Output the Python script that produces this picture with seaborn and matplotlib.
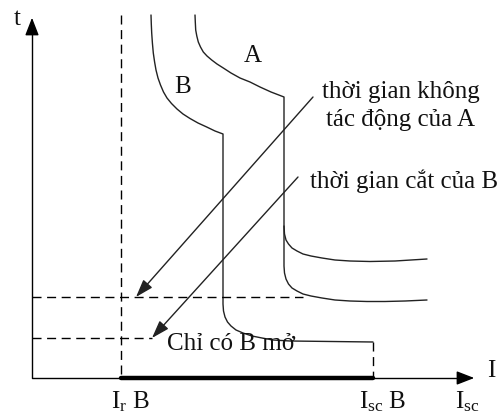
import matplotlib
matplotlib.use("Agg")
import matplotlib.pyplot as plt
import seaborn as sns
import pandas as pd

sns.set_theme(style="white")
plt.rcParams['font.family'] = ['Liberation Serif', 'DejaVu Serif']
plt.rcParams['mathtext.fontset'] = 'custom'
plt.rcParams['mathtext.rm'] = 'Liberation Serif'
plt.rcParams['mathtext.it'] = 'Liberation Serif'

# ---- diagram data (pixel-like canvas units) ----
curve_b_x = [151, 151.3, 151.7, 152.4, 153.3, 154.6, 156, 158, 160.5, 163.5, 167, 171.5, 177, 183, 190, 198, 206.7, 215, 223,
             223, 223.5, 225, 227.5, 231, 236, 243, 252, 262, 273, 290, 373]
curve_b_y = [15, 24, 33, 43, 53, 62, 70, 78, 85, 92, 98, 103.5, 109, 114, 118.5, 123, 127, 131, 134,
             304, 311, 317, 322, 326, 330, 333, 336, 338, 340, 341, 342]

curve_a_x = [195, 195.3, 195.7, 196.8, 198.3, 200.5, 203.3, 207, 211.7, 217, 223.3, 231, 240, 250, 260, 271, 284,
             284, 284.5, 286, 288.5, 292, 297, 303, 311, 322, 335, 350, 367, 385, 405, 427]
curve_a_y = [15, 22, 30, 36, 42, 47, 52, 56, 60, 64, 68, 73, 78, 82, 87, 92, 97,
             266, 273, 279, 284, 288, 291, 294, 296, 298, 300, 301, 301.5, 301.5, 301, 300]

curve_a2_x = [284, 284.5, 286, 288.5, 292, 297, 303, 311, 322, 335, 350, 370, 395, 427]
curve_a2_y = [226, 234, 240, 244, 248, 251, 254, 256, 258, 260, 261, 261.5, 261, 259]

ir_x, isc_x = 121, 373
t_nonop_y, t_cut_y = 297, 338
box_top_y = 342
axis_x0, axis_y0 = 32, 378
axis_top, axis_right = 15, 477

arrow1 = ((313, 97), (136, 297))
arrow2 = ((298, 177), (152, 338))

labels = {
    "t": (17, 19), "I": (491, 371), "A": (253, 56), "B": (183, 87),
}
note1 = "thời gian không\ntác động của A"
note2 = "thời gian cắt của B"
note3 = "Chỉ có B mở"

fig = plt.figure(figsize=(4.99, 4.17), dpi=100)
ax = fig.add_axes([0, 0, 1, 1])
ax.set_xlim(0, 499)
ax.set_ylim(417, 0)
ax.axis("off")

def line(xs, ys, **kw):
    d = pd.DataFrame({"x": xs, "y": ys})
    sns.lineplot(data=d, x="x", y="y", sort=False, estimator=None, ax=ax,
                 color=kw.pop("color", "#222222"), **kw)

lw = 1.0
dash = (0, (6.5, 4.0))
# curves
line(curve_b_x, curve_b_y, linewidth=lw)
line(curve_a_x, curve_a_y, linewidth=lw)
line(curve_a2_x, curve_a2_y, linewidth=lw)

# axes
line([axis_x0, axis_x0, axis_right - 10], [axis_top + 10, axis_y0, axis_y0], linewidth=lw, color="black")
ax.annotate("", xy=(axis_x0, axis_top), xytext=(axis_x0, axis_top + 14),
            arrowprops=dict(arrowstyle="-|>,head_length=0.9,head_width=0.35", color="black", lw=lw))
ax.annotate("", xy=(axis_right, axis_y0), xytext=(axis_right - 14, axis_y0),
            arrowprops=dict(arrowstyle="-|>,head_length=0.9,head_width=0.35", color="black", lw=lw))

# thick bar
line([ir_x, isc_x], [axis_y0, axis_y0], linewidth=3.2, color="black")
# dashed lines
line([ir_x, ir_x], [axis_top, axis_y0], linewidth=lw, linestyle=dash, color="black")
line([isc_x, isc_x], [box_top_y, axis_y0], linewidth=lw, linestyle=dash, color="black")
line([axis_x0, 303], [t_nonop_y, t_nonop_y], linewidth=lw, linestyle=dash, color="black")
line([axis_x0, 152], [t_cut_y, t_cut_y], linewidth=lw, linestyle=dash, color="black")

# pointer arrows
for (s, e) in (arrow1, arrow2):
    ax.annotate("", xy=e, xytext=s,
                arrowprops=dict(arrowstyle="-|>,head_length=0.9,head_width=0.3",
                                color="#222222", lw=lw, shrinkA=0, shrinkB=0))

fs = 18
tc = "#111111"
for k, (x, y) in labels.items():
    ax.text(x, y, k, fontsize=fs, ha="center", va="center", color=tc)
ax.text(401, 106, note1, fontsize=fs, ha="center", va="center", color=tc, linespacing=1.35)
ax.text(404, 181, note2, fontsize=fs, ha="center", va="center", color=tc)
ax.text(231, 344, note3, fontsize=fs, ha="center", va="center", color=tc)

ax.text(130, 402, r"$\mathregular{I_{r}}$ B", fontsize=fs, ha="center", va="center", color=tc)
ax.text(383, 402, r"$\mathregular{I_{sc}}$ B", fontsize=fs, ha="center", va="center", color=tc)
ax.text(467, 402, r"$\mathregular{I_{sc}}$", fontsize=fs, ha="center", va="center", color=tc)

fig.savefig("out.png", dpi=100)
